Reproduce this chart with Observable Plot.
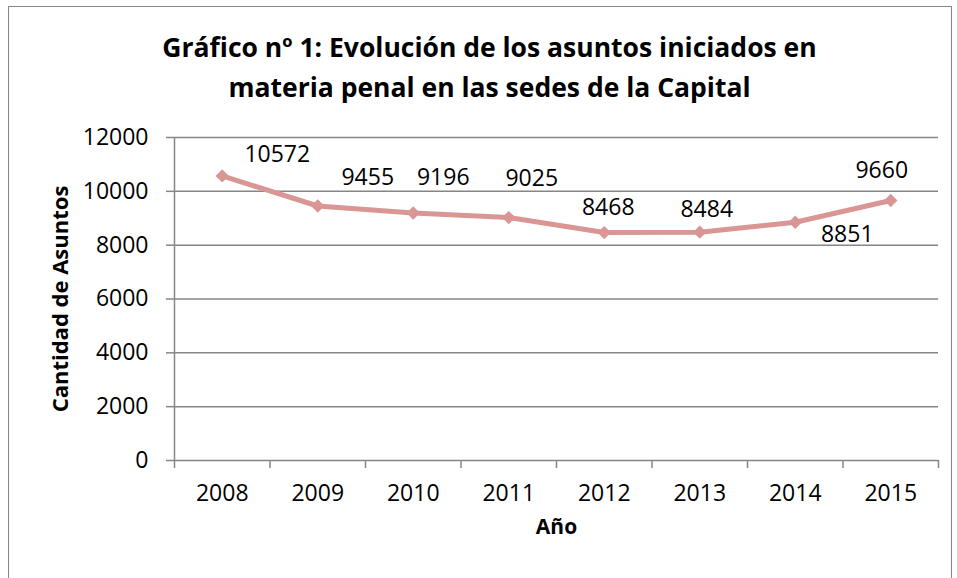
<!DOCTYPE html>
<html>
<head>
<meta charset="utf-8">
<script src="https://cdn.jsdelivr.net/npm/d3@7"></script>
<script src="https://cdn.jsdelivr.net/npm/@observablehq/plot@0.6"></script>
<style>
  html, body { margin: 0; padding: 0; background: #fff; }
  #wrap { position: relative; width: 957px; height: 578px; overflow: hidden; font-family: "Open Sans", sans-serif; }
  #frame { position: absolute; left: 8px; top: 6px; width: 944px; height: 600px; border: 1.5px solid #888; box-sizing: border-box; }
  #title { position: relative; height: 110px; box-sizing: border-box; padding-top: 27px; text-align: center; font-weight: bold; font-size: 26.5px; line-height: 40px; color: #000; padding-left: 22px; }
  #chart { position: relative; }
</style>
</head>
<body>
<div id="wrap">
  <div id="frame"></div>
  <div id="title">Gráfico nº 1: Evolución de los asuntos iniciados en<br>materia penal en las sedes de la Capital</div>
  <div id="chart"></div>
</div>
<script>
const years = [2008, 2009, 2010, 2011, 2012, 2013, 2014, 2015];
const values = [10572, 9455, 9196, 9025, 8468, 8484, 8851, 9660];
const yTicks = [0, 2000, 4000, 6000, 8000, 10000, 12000];
const yLabel = "Cantidad de Asuntos";
const xLabel = "Año";

const data = years.map((y, i) => ({year: y, value: values[i]}));
const bounds = years.map(y => y - 0.5).concat([years[years.length - 1] + 0.5]);
// label placement offsets (presentation only)
const offsets = [[55, -21], [50, -28], [30, -35], [23, -39], [4, -25], [7, -23], [52, 12], [-9, -30]];
const lineColor = "#d99694";
const gridColor = "#868686";

const chart = Plot.plot({
  width: 957,
  height: 468,
  marginLeft: 174,
  marginRight: 19,
  marginTop: 27,
  marginBottom: 118,
  x: {domain: [bounds[0], bounds[bounds.length - 1]]},
  y: {domain: [0, 12000]},
  style: {fontFamily: "Open Sans, sans-serif", fontSize: "23px", color: "#000", background: "transparent", overflow: "visible"},
  marks: [
    Plot.gridY(yTicks, {stroke: gridColor, strokeOpacity: 1, strokeWidth: 1.5}),
    Plot.axisY({ticks: yTicks, tickSize: 8, tickPadding: 18, tickFormat: d => String(d), stroke: gridColor, strokeWidth: 1.5, fill: "#000", fontSize: 23, label: null}),
    Plot.ruleX([bounds[0]], {stroke: gridColor, strokeWidth: 1.5}),
    Plot.axisX({ticks: bounds, tickSize: 8, tickFormat: () => "", stroke: gridColor, strokeWidth: 1.5, label: null}),
    Plot.axisX({ticks: years, tickSize: 0, tickPadding: 24, tickFormat: d => String(d), fill: "#000", fontSize: 23, label: null}),
    Plot.line(data, {x: "year", y: "value", stroke: lineColor, strokeWidth: 5}),
    Plot.dot(data, {x: "year", y: "value", symbol: "diamond2", r: 6, fill: lineColor, stroke: "none"}),
    ...data.map((d, i) => Plot.text([d], {x: "year", y: "value", text: d => String(d.value), dx: offsets[i][0], dy: offsets[i][1], fontSize: 23, fill: "#000"})),
    Plot.text([yLabel], {frameAnchor: "left", textAnchor: "middle", rotate: -90, dx: -114, fontWeight: "bold", fontSize: 22, fill: "#000"}),
    Plot.text([xLabel], {frameAnchor: "bottom", dy: 73, fontWeight: "bold", fontSize: 21, fill: "#000"})
  ]
});
document.getElementById("chart").appendChild(chart);
</script>
</body>
</html>
